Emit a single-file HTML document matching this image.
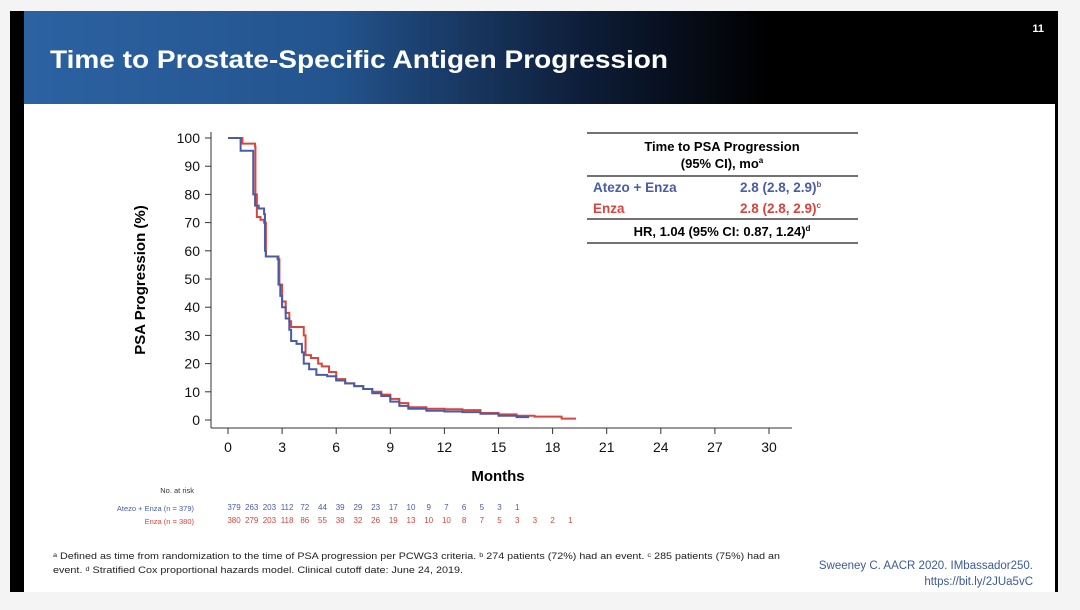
<!DOCTYPE html>
<html><head><meta charset="utf-8"><style>
body{margin:0;width:1080px;height:605px;background:#f4f4f4;overflow:hidden;font-family:"Liberation Sans",Arial,sans-serif}
</style></head><body>
<svg width="1080" height="605" viewBox="0 0 1080 605" xmlns="http://www.w3.org/2000/svg" font-family="Liberation Sans, Arial, sans-serif">
<defs><linearGradient id="hg" x1="0" x2="1"><stop offset="0" stop-color="#2c62a2"/><stop offset="0.3" stop-color="#23548e"/><stop offset="0.55" stop-color="#0d1c36"/><stop offset="0.72" stop-color="#000"/><stop offset="1" stop-color="#000"/></linearGradient></defs>
<rect x="10" y="11" width="1048" height="581" fill="#000"/>
<rect x="24" y="104" width="1031" height="488" fill="#fff"/>
<rect x="24" y="11" width="1031" height="93" fill="url(#hg)"/>
<text x="50" y="68" font-size="25" font-weight="bold" fill="#fff" textLength="618" lengthAdjust="spacingAndGlyphs">Time to Prostate-Specific Antigen Progression</text>
<text x="1044" y="32" font-size="11" font-weight="bold" fill="#fff" text-anchor="end">11</text>
<g id="chart"></g>
<g>
<line x1="587" y1="133" x2="858" y2="133" stroke="#444" stroke-width="1.5"/>
<text x="722" y="151" font-size="13" font-weight="bold" text-anchor="middle">Time to PSA Progression</text>
<text x="722" y="168" font-size="13" font-weight="bold" text-anchor="middle">(95% CI), mo<tspan font-size="8" dy="-5">a</tspan></text>
<line x1="587" y1="176" x2="858" y2="176" stroke="#444" stroke-width="1.5"/>
<text x="593" y="192" font-size="13.5" font-weight="bold" fill="#4a5ba8">Atezo + Enza</text>
<text x="740" y="192" font-size="13.5" font-weight="bold" fill="#4a5ba8">2.8 (2.8, 2.9)<tspan font-size="8" dy="-5">b</tspan></text>
<text x="593" y="213" font-size="13.5" font-weight="bold" fill="#d9443d">Enza</text>
<text x="740" y="213" font-size="13.5" font-weight="bold" fill="#d9443d">2.8 (2.8, 2.9)<tspan font-size="8" dy="-5">c</tspan></text>
<line x1="587" y1="219" x2="858" y2="219" stroke="#444" stroke-width="1.5"/>
<text x="722" y="236" font-size="13" font-weight="bold" text-anchor="middle">HR, 1.04 (95% CI: 0.87, 1.24)<tspan font-size="8" dy="-5">d</tspan></text>
<line x1="587" y1="243" x2="858" y2="243" stroke="#444" stroke-width="1.5"/>
</g>
<text x="194" y="493" font-size="7.5" fill="#333" text-anchor="end">No. at risk</text>
<text x="194" y="511" font-size="7.5" fill="#4a5ba8" text-anchor="end">Atezo + Enza (n = 379)</text>
<text x="194" y="524" font-size="7.5" fill="#d9443d" text-anchor="end">Enza (n = 380)</text>
<g id="risk"></g>
<text x="53" y="559" font-size="9" fill="#222" textLength="727" lengthAdjust="spacingAndGlyphs">ᵃ Defined as time from randomization to the time of PSA progression per PCWG3 criteria. ᵇ 274 patients (72%) had an event. ᶜ 285 patients (75%) had an</text>
<text x="53" y="573" font-size="9" fill="#222" textLength="410" lengthAdjust="spacingAndGlyphs">event. ᵈ Stratified Cox proportional hazards model. Clinical cutoff date: June 24, 2019.</text>
<text x="1033" y="569" font-size="11.5" fill="#3c5a9a" text-anchor="end">Sweeney C. AACR 2020. IMbassador250.</text>
<text x="1033" y="585" font-size="11.5" fill="#3c5a9a" text-anchor="end">https://bit.ly/2JUa5vC</text>
</svg>
<script>
const xTicks=[0,3,6,9,12,15,18,21,24,27,30];
const yTicks=[0,10,20,30,40,50,60,70,80,90,100];
const blueT=[0,0.7,1.4,1.5,1.7,2.0,2.05,2.1,2.75,2.8,2.9,3.0,3.2,3.4,3.5,3.8,4.1,4.2,4.5,4.9,5.5,6,6.5,7,7.5,8,8.5,9,9.5,10,11,12,13,14,15,16,16.7];
const blueS=[100,95.5,80,76,75,73,60,58,57,48,44,40,36,32,28,27,24,20,18,16,15.5,14,13,12,11,9.5,8.5,6.5,5,4,3.3,3,2.8,2.2,1.5,1.0,1.0];
const redT=[0,0.8,1.5,1.52,1.6,1.8,2.0,2.1,2.8,2.85,3.0,3.2,3.4,3.5,4.2,4.3,4.6,5.0,5.2,5.6,6,6.5,7,7.5,8,8.5,9,9.5,10,11,12,13,14,15,16,17,18.5,19.3];
const redS=[100,98,97,80,72,71,70,58,57,48,42,38,35,33,30,23,22,20,19,17,14.5,13,12,11,10,9,7.5,6,4.5,4,3.8,3.5,2.5,2,1.5,1.2,0.5,0.5];
const riskAtezo=[379,263,203,112,72,44,39,29,23,17,10,9,7,6,5,3,1];
const riskEnza=[380,279,203,118,86,55,38,32,26,19,13,10,10,8,7,5,3,3,2,1];
const NS='http://www.w3.org/2000/svg';
const X=t=>228+t*(769-228)/30, Y=v=>420-v*(420-138)/100;
const g=document.getElementById('chart');
function mk(tag,a,p){const e=document.createElementNS(NS,tag);for(const k in a)e.setAttribute(k,a[k]);(p||g).appendChild(e);return e;}
let e=mk('line',{x1:211,y1:132,x2:211,y2:428,stroke:'#333','stroke-width':1});


e=mk('line',{x1:211,y1:428,x2:792,y2:428,stroke:'#333','stroke-width':1});


yTicks.forEach(v=>{mk('line',{x1:205,x2:211,y1:Y(v),y2:Y(v),stroke:'#333'});
 e=mk('text',{x:200,y:Y(v)+5,'font-size':14,'text-anchor':'end',fill:'#111'});e.textContent=v;
 
 });
xTicks.forEach(v=>{mk('line',{x1:X(v),x2:X(v),y1:428,y2:434,stroke:'#333'});
 e=mk('text',{x:X(v),y:452,'font-size':14,'text-anchor':'middle',fill:'#111'});e.textContent=v;
 
 });
e=mk('text',{x:498,y:481,'font-size':15,'font-weight':'bold','text-anchor':'middle'});e.textContent='Months';


e=mk('text',{x:0,y:0,'font-size':15,'font-weight':'bold','text-anchor':'middle',transform:'translate(145,280) rotate(-90)'});e.textContent='PSA Progression (%)';


function step(T,S){let d='M'+X(T[0])+','+Y(S[0]);for(let i=1;i<T.length;i++){d+='H'+X(T[i])+'V'+Y(S[i]);}return d;}
e=mk('path',{d:step(redT,redS),fill:'none',stroke:'#d9443d','stroke-width':2});


e=mk('path',{d:step(blueT,blueS),fill:'none',stroke:'#4a5ba8','stroke-width':2});


const r=document.getElementById('risk');
riskAtezo.forEach((v,i)=>{const t=mk('text',{x:234+i*17.7,y:510,'font-size':8,fill:'#4a5ba8','text-anchor':'middle'},r);t.textContent=v;
 
 });
riskEnza.forEach((v,i)=>{const t=mk('text',{x:234+i*17.7,y:523,'font-size':8,fill:'#d9443d','text-anchor':'middle'},r);t.textContent=v;
 
 });
</script>
</body></html>
